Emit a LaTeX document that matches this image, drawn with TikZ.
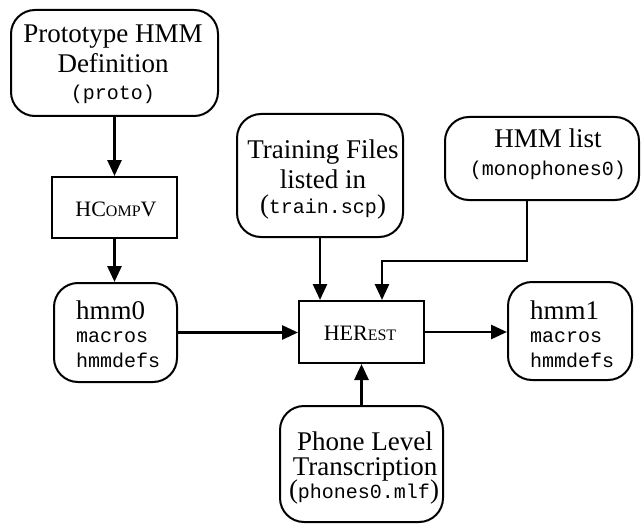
\documentclass[tikz,border=0pt]{standalone}
\usepackage{fontspec}
\setmainfont{Liberation Serif}
\setmonofont{Liberation Mono}
\usetikzlibrary{arrows.meta}
\newcommand\mysc[1]{{\fontsize{16}{18}\selectfont #1}}
\newcommand\bigtxt{\fontsize{27}{30}\selectfont}
\newcommand\mono{\fontsize{20}{22}\selectfont\ttfamily}
\begin{document}
\begin{tikzpicture}[x=1pt,y=-1pt,
  rbox/.style={draw, line width=2pt, rounded corners=24pt, inner sep=0pt},
  pbox/.style={draw, line width=2pt, inner sep=0pt},
  txt/.style={inner sep=0pt, anchor=base, font=\bigtxt},
  txtl/.style={inner sep=0pt, anchor=base west, font=\bigtxt},
  mtxt/.style={inner sep=0pt, anchor=base, font=\mono},
  mtxtl/.style={inner sep=0pt, anchor=base west, font=\mono},
  ptxt/.style={inner sep=0pt, anchor=base, font=\fontsize{22}{24}\selectfont},
  arr/.style={line width=2.8pt, -{Triangle[length=16pt,width=14pt]}}]
\useasboundingbox (0,0) rectangle (642,524);

% boxes
\node[rbox, minimum width=207pt, minimum height=106pt] (proto) at (114.5,63) {};
\node[pbox, minimum width=125pt, minimum height=61pt] (hcompv) at (114.5,207.5) {};
\node[rbox, minimum width=123pt, minimum height=99pt] (hmm0) at (115.5,332.5) {};
\node[rbox, minimum width=166pt, minimum height=123pt] (train) at (320,175.5) {};
\node[rbox, minimum width=194pt, minimum height=83pt] (hmmlist) at (542,158.5) {};
\node[pbox, minimum width=125pt, minimum height=62pt] (herest) at (361.5,332) {};
\node[rbox, minimum width=124pt, minimum height=98pt] (hmm1) at (570,331) {};
\node[rbox, minimum width=163pt, minimum height=116pt] (phone) at (361.5,464) {};

% texts
\node[txt] (proto1) at (113,43) {Prototype HMM};
\node[txt] (proto2) at (113,73) {Definition};
\node[mtxt] (proto3) at (113,100) {(proto)};
\node[ptxt] (hcompvt) at (116,216) {HC\mysc{OMP}V};
\node[txtl] (hmm0a) at (76,319) {hmm0};
\node[mtxtl] (hmm0b) at (76,342) {macros};
\node[mtxtl] (hmm0c) at (76,367) {hmmdefs};
\node[txt] (train1) at (323,158) {Training Files};
\node[txt] (train2) at (323,188) {listed in};
\node[txt] (train3) at (323,213) {(\mono train.scp\bigtxt\rmfamily)};
\node[txt] (list1) at (548,147) {HMM list};
\node[mtxt] (list2) at (548,175) {(monophones0)};
\node[ptxt] (herestt) at (360,340) {HER\mysc{EST}};
\node[txtl] (hmm1a) at (530,319) {hmm1};
\node[mtxtl] (hmm1b) at (530,342) {macros};
\node[mtxtl] (hmm1c) at (530,367) {hmmdefs};
\node[txt] (phone1) at (365,450) {Phone Level};
\node[txt] (phone2) at (365,475) {Transcription};
\node[txt] (phone3) at (364,498) {(\mono phones0.mlf\bigtxt\rmfamily)};

% connectors
\draw[arr] (proto.south) -- (proto.south |- hcompv.north);
\draw[arr] (hcompv.south) -- (hcompv.south |- hmm0.north);
\draw[arr] (hmm0.east) -- (hmm0.east -| herest.west);
\draw[arr] (herest.east) -- (herest.east -| hmm1.west);
\draw[arr] (phone.north) -- (phone.north |- herest.south);
\draw[arr] (train.south) -- (train.south |- herest.north);
\coordinate (hl) at ([xshift=-15pt]hmmlist.south);
\coordinate (he) at ([xshift=20.5pt]herest.north);
\coordinate (bend) at (he |- 0,261);
\draw[arr] (hl) |- (bend) -- (he);
\end{tikzpicture}
\end{document}
